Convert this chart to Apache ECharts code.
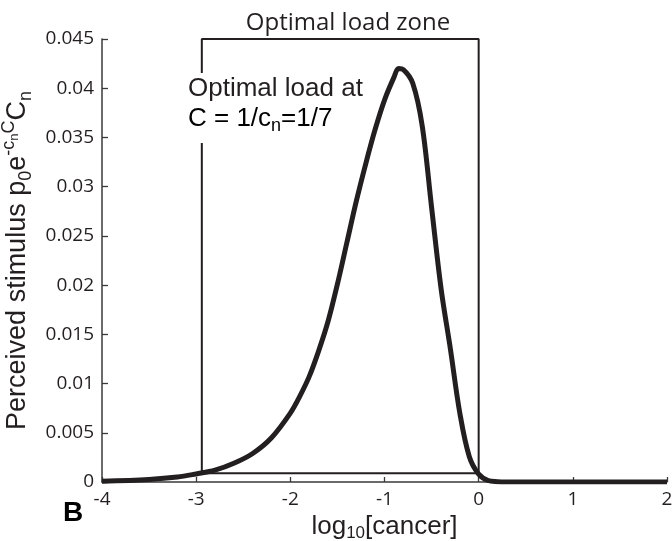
<!DOCTYPE html>
<html>
<head>
<meta charset="utf-8">
<script src="https://cdn.jsdelivr.net/npm/echarts@6/dist/echarts.min.js"></script>
<style>
  html, body { margin: 0; background: #fff; }
  #chart { width: 672px; height: 541px; }
</style>
</head>
<body>
<div id="chart"></div>
<script>
// courbe : log10[cancer] -> stimulus perçu
const logCancer = [-4, -3.5, -3.2, -3, -2.8, -2.6, -2.4, -2.2, -2, -1.9, -1.8, -1.7, -1.6, -1.5, -1.4, -1.3, -1.2,
  -1.1, -1, -0.9, -0.85, -0.8, -0.7, -0.6, -0.5, -0.4, -0.3, -0.2, -0.1, 0, 0.1, 0.2, 0.3, 1, 2];
const stimulus = [0.00008, 0.00026, 0.0005, 0.00082, 0.0012, 0.0019, 0.0029, 0.0045, 0.007, 0.0087, 0.0107, 0.0133,
  0.0163, 0.0201, 0.0243, 0.0285, 0.0323, 0.0358, 0.0388, 0.0411, 0.042, 0.0419, 0.0405, 0.0362, 0.0279, 0.0197,
  0.0135, 0.007, 0.0026, 0.0008, 0.00015, 0.00003, 0, 0, 0];

// zone de charge optimale (rectangle)
const zoneX = [-2.94, 0];
const zoneFloor = 0.0009;
const zoneTop = 0.045;

// axes
const xRange = [-4, 2];
const xStep = 1;
const yRange = [0, 0.045];
const yStep = 0.005;

const ink = "#231f20";
const axe = "#3a3a3a";
const helv = "'Liberation Sans', Arial, sans-serif";
const myriad = "'Open Sans', sans-serif";

const chart = echarts.init(document.getElementById("chart"));

const cadre = [
  [zoneX[0], zoneFloor], [zoneX[0], zoneTop], [zoneX[1], zoneTop], [zoneX[1], zoneFloor], [zoneX[0], zoneFloor],
];

// fragment de texte riche calé en haut, décalé vers le bas de `pad`
const haut = (size, pad) => ({ fontSize: size, fontFamily: helv, color: ink, verticalAlign: "top", padding: [pad, 0, 0, 0] });

chart.setOption({
  animation: false,
  grid: { left: 102, right: 5, top: 39, bottom: 59, containLabel: false, outerBoundsMode: "none" },
  xAxis: {
    type: "value",
    min: xRange[0], max: xRange[1], interval: xStep,
    splitLine: { show: false },
    axisLine: { onZero: false, lineStyle: { color: axe, width: 1.5 } },
    axisTick: { inside: true, length: 5, lineStyle: { color: axe, width: 1.3 } },
    axisLabel: { color: ink, fontSize: 19, fontFamily: myriad, margin: 8 },
    name: "{b|log}{sub|10}{b|[cancer]}",
    nameLocation: "middle",
    nameGap: 26,
    nameTextStyle: {
      rich: { b: haut(26, 4), sub: haut(17, 15) },
    },
  },
  yAxis: {
    type: "value",
    min: yRange[0], max: yRange[1], interval: yStep,
    splitLine: { show: false },
    axisLine: { show: true, onZero: false, lineStyle: { color: axe, width: 1.5 } },
    axisTick: { show: true, inside: true, length: 6, lineStyle: { color: axe, width: 1.3 } },
    axisLabel: { color: ink, fontSize: 19, fontFamily: myriad, margin: 8 },
    name: "{b|Perceived stimulus p}{sub|0}{b|e}{sup|-c}{ss|n}{sup|C}{b|C}{sub|n}",
    nameLocation: "middle",
    nameRotate: 90,
    nameGap: 60,
    nameTextStyle: {
      rich: { b: haut(27, 6), sub: haut(18, 19), sup: haut(18, 2), ss: haut(13, 10) },
    },
  },
  series: [
    {
      type: "line",
      data: cadre,
      symbol: "none",
      lineStyle: { color: ink, width: 2 },
      z: 2,
    },
    {
      type: "line",
      data: logCancer.map((x, i) => [x, stimulus[i]]),
      symbol: "none",
      smooth: 0.35,
      lineStyle: { color: ink, width: 5 },
      z: 3,
    },
  ],
  graphic: [
    {
      type: "text", x: 348, y: 23, z: 10,
      style: { text: "Optimal load zone", font: "24px " + myriad, fill: ink, textAlign: "center", textVerticalAlign: "middle" },
    },
    // coupure du bord gauche du cadre derrière l'annotation
    { type: "rect", shape: { x: 186, y: 73, width: 34, height: 70 }, style: { fill: "#fff" }, z: 10 },
    {
      type: "text", left: 188, top: 76, z: 11,
      style: { text: "Optimal load at", font: "26px " + helv, fill: ink },
    },
    {
      type: "text", left: 188, top: 106, z: 11,
      style: {
        text: "{b|C = 1/c}{sub|n}{b|=1/7}",
        rich: { b: haut(26, 0), sub: haut(18, 11) },
      },
    },
    {
      type: "text", left: 63, top: 499, z: 10,
      style: { text: "B", font: "bold 28px " + helv, fill: "#000" },
    },
  ],
});
</script>
</body>
</html>
